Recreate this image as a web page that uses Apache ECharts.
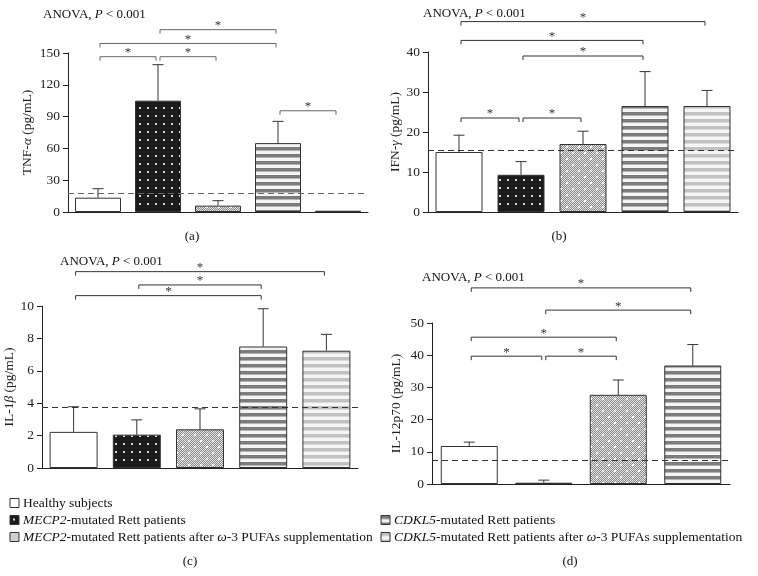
<!DOCTYPE html>
<html><head><meta charset="utf-8">
<script src="https://cdn.jsdelivr.net/npm/echarts@6/dist/echarts.min.js"></script>
<style>html,body{margin:0;padding:0;background:#fff}#c{width:758px;height:576px}</style>
</head><body><div id="c"></div><script>
// ---------- data ----------
const groups = ['Healthy subjects', 'MECP2-mutated Rett patients', 'MECP2-mutated Rett patients after ω-3 PUFAs supplementation', 'CDKL5-mutated Rett patients', 'CDKL5-mutated Rett patients after ω-3 PUFAs supplementation'];
const groupsD = groups.slice(0, 4);

const tnfMean = [13.5, 105, 6, 65, 1.2];
const tnfErr = [22, 139, 10.7, 85.5, null];
const tnfRef = 17.3;
const tnfBrackets = [[0, 1, 146.5], [1, 2, 146.5], [0, 3, 159], [1, 3, 172], [3, 4, 95.5]];
const tnfTicks = [0, 150, 30];

const ifnMean = [15, 9.3, 17, 26.5, 26.5];
const ifnErr = [19.2, 12.6, 20.2, 35.1, 30.4];
const ifnRef = 15.5;
const ifnBrackets = [[0, 1, 23.5], [1, 2, 23.5], [1, 3, 39], [0, 3, 42.9], [0, 4, 47.6]];
const ifnTicks = [0, 40, 10];

const il1Mean = [2.23, 2.06, 2.39, 7.5, 7.24];
const il1Err = [3.78, 2.97, 3.65, 9.83, 8.25];
const il1Ref = 3.75;
const il1Brackets = [[0, 3, 10.64], [1, 3, 11.3], [0, 4, 12.12]];
const il1Ticks = [0, 10, 2];

const il12Mean = [11.8, 0.4, 27.7, 36.8];
const il12Err = [13.0, 1.2, 32.3, 43.3];
const il12Ref = 7.4;
const il12Brackets = [[0, 1, 39.7], [1, 2, 39.7], [0, 2, 45.6], [1, 3, 54], [0, 3, 60.9]];
const il12Ticks = [0, 50, 10];

// ---------- patterns ----------
function mk(w, h, draw) {
  const c = document.createElement('canvas'); c.width = w; c.height = h;
  draw(c.getContext('2d')); return { image: c, repeat: 'repeat' };
}
const patWhite = '#ffffff';
const patDots = mk(8, 8, g => { g.fillStyle = '#1b1b1b'; g.fillRect(0, 0, 8, 8); g.fillStyle = '#d8d8d8'; g.fillRect(3, 3, 2, 2); });
const patCheck = mk(12, 12, g => {
  for (let y = 0; y < 12; y++) for (let x = 0; x < 12; x++) {
    g.fillStyle = ((x >> 0) + (y >> 0)) % 2 ? '#8a8a8a' : '#e4e4e4'; g.fillRect(x, y, 1, 1);
  }
  g.fillStyle = '#ffffff'; g.fillRect(2, 2, 2, 2); g.fillRect(8, 8, 2, 2);
});
const patDark = mk(4, 7, g => { g.fillStyle = '#f4f4f4'; g.fillRect(0, 0, 4, 7); g.fillStyle = '#7c7c7c'; g.fillRect(0, 0, 4, 3); g.fillStyle = '#b4b4b4'; g.fillRect(0, 3, 4, 1); });
const patLight = mk(4, 7, g => { g.fillStyle = '#f6f6f6'; g.fillRect(0, 0, 4, 7); g.fillStyle = '#c2c2c2'; g.fillRect(0, 0, 4, 3); g.fillStyle = '#dadada'; g.fillRect(0, 3, 4, 1); });
const pats = [patWhite, patDots, patCheck, patDark, patLight];

const FONT = 'Liberation Serif';
const grids = [
  { left: 68, top: 53, width: 300, height: 159 },
  { left: 428, top: 52, width: 310, height: 160 },
  { left: 42, top: 306, width: 316, height: 162 },
  { left: 432, top: 323, width: 298, height: 161 }
];
const panels = [
  { cats: groups, mean: tnfMean, err: tnfErr, ref: tnfRef, br: tnfBrackets, ticks: tnfTicks, name: 'TNF-{i|α} (pg/mL)', gap: 34, bw: 46, col: '#666' },
  { cats: groups, mean: ifnMean, err: ifnErr, ref: ifnRef, br: ifnBrackets, ticks: ifnTicks, name: 'IFN-{i|γ} (pg/mL)', gap: 26, bw: 47, col: '#333' },
  { cats: groups, mean: il1Mean, err: il1Err, ref: il1Ref, br: il1Brackets, ticks: il1Ticks, name: 'IL-1{i|β} (pg/mL)', gap: 18, bw: 48, col: '#333' },
  { cats: groupsD, mean: il12Mean, err: il12Err, ref: il12Ref, br: il12Brackets, ticks: il12Ticks, name: 'IL-12p70 (pg/mL)', gap: 29, bw: 57, col: '#333' }
];

const xAxis = [], yAxis = [], series = [];
panels.forEach((p, k) => {
  xAxis.push({ type: 'category', gridIndex: k, data: p.cats, axisTick: { show: false }, axisLabel: { show: false },
    axisLine: { lineStyle: { color: '#222', width: 1 } } });
  yAxis.push({ type: 'value', gridIndex: k, min: p.ticks[0], max: p.ticks[1], interval: p.ticks[2],
    name: p.name, nameLocation: 'middle', nameGap: p.gap,
    nameTextStyle: { fontFamily: FONT, fontSize: 13.5, color: '#222', rich: { i: { fontFamily: FONT, fontSize: 13.5, fontStyle: 'italic', color: '#222' } } },
    splitLine: { show: false },
    axisLine: { show: true, lineStyle: { color: '#222', width: 1 } },
    axisTick: { show: true, length: 5, lineStyle: { color: '#222' } },
    axisLabel: { fontFamily: FONT, fontSize: 13.5, color: '#222', margin: 8 } });
  series.push({ type: 'bar', xAxisIndex: k, yAxisIndex: k, barWidth: p.bw, z: 2,
    data: p.mean.map((v, i) => ({ value: v, itemStyle: { color: pats[i], borderColor: '#333', borderWidth: 1 } })),
    markLine: { silent: true, symbol: 'none', label: { show: false },
      lineStyle: { color: p.col, type: [6, 4], width: 1.2 }, data: [{ yAxis: p.ref }] } });
  series.push({ type: 'custom', xAxisIndex: k, yAxisIndex: k, z: 3,
    data: p.mean.map((v, i) => [i, v, p.err[i] == null ? v : p.err[i]]),
    renderItem: (params, api) => {
      const a = api.coord([api.value(0), api.value(1)]);
      const b = api.coord([api.value(0), api.value(2)]);
      if (Math.abs(a[1] - b[1]) < 0.5) return null;
      const s = { stroke: '#333', lineWidth: 1 };
      return { type: 'group', children: [
        { type: 'line', shape: { x1: a[0], y1: a[1], x2: b[0], y2: b[1] }, style: s },
        { type: 'line', shape: { x1: b[0] - 5.5, y1: b[1], x2: b[0] + 5.5, y2: b[1] }, style: s }
      ] };
    } });
  series.push({ type: 'custom', xAxisIndex: k, yAxisIndex: k, z: 4, clip: false,
    data: p.br.map(b => [b[0], b[2]]),
    renderItem: (params, api) => {
      const br = p.br[params.dataIndex];
      const a = api.coord([br[0], br[2]]);
      const b = api.coord([br[1], br[2]]);
      const x1 = a[0] + 2, x2 = b[0] - 2, y = a[1];
      return { type: 'group', children: [
        { type: 'polyline', shape: { points: [[x1, y + 4], [x1, y], [x2, y], [x2, y + 4]] }, style: { stroke: p.col, lineWidth: 1, fill: null } },
        { type: 'text', x: (x1 + x2) / 2, y: y - 4, style: { text: '*', fontFamily: FONT, fontSize: 13, fill: '#333', align: 'center', verticalAlign: 'middle' } }
      ] };
    } });
});

const rt = { n: { fontFamily: FONT, fontSize: 13, fill: '#111' }, i: { fontFamily: FONT, fontSize: 13, fontStyle: 'italic', fill: '#111' } };
const rtL = { n: { fontFamily: FONT, fontSize: 13.5, fill: '#111' }, i: { fontFamily: FONT, fontSize: 13.5, fontStyle: 'italic', fill: '#111' } };
function txt(x, y, text, align, rich) {
  return { type: 'text', x: x, y: y, style: { text: text, rich: rich || rt, fontFamily: FONT, fontSize: 13, fill: '#111', align: align || 'left', verticalAlign: 'middle' } };
}
const graphic = [
  txt(43, 15, '{n|ANOVA, }{i|P}{n| < 0.001}'),
  txt(423, 14, '{n|ANOVA, }{i|P}{n| < 0.001}'),
  txt(60, 262, '{n|ANOVA, }{i|P}{n| < 0.001}'),
  txt(422, 278, '{n|ANOVA, }{i|P}{n| < 0.001}'),
  txt(192, 237, '{n|(a)}', 'center'),
  txt(559, 237, '{n|(b)}', 'center'),
  txt(190, 562, '{n|(c)}', 'center'),
  txt(570, 562, '{n|(d)}', 'center')
];
const legendLabels = [
  '{n|Healthy subjects}',
  '{i|MECP2}{n|-mutated Rett patients}',
  '{i|MECP2}{n|-mutated Rett patients after }{i|ω}{n|-3 PUFAs supplementation}',
  '{i|CDKL5}{n|-mutated Rett patients}',
  '{i|CDKL5}{n|-mutated Rett patients after }{i|ω}{n|-3 PUFAs supplementation}'
];
const legendPos = [[10, 503], [10, 520], [10, 537], [381, 520], [381, 537]];
legendLabels.forEach((t, i) => {
  const [x, y] = legendPos[i];
  graphic.push({ type: 'rect', x: x, y: y - 4.5, shape: { width: 9, height: 9 }, style: { fill: i === 2 ? '#cfcfcf' : pats[i], stroke: '#333', lineWidth: 1 } });
  graphic.push(txt(x + 13, y, t, 'left', rtL));
});

const chart = echarts.init(document.getElementById('c'), null, { renderer: 'canvas' });
chart.setOption({ animation: false, backgroundColor: '#fff', grid: grids, xAxis: xAxis, yAxis: yAxis, series: series, graphic: graphic });
</script></body></html>
